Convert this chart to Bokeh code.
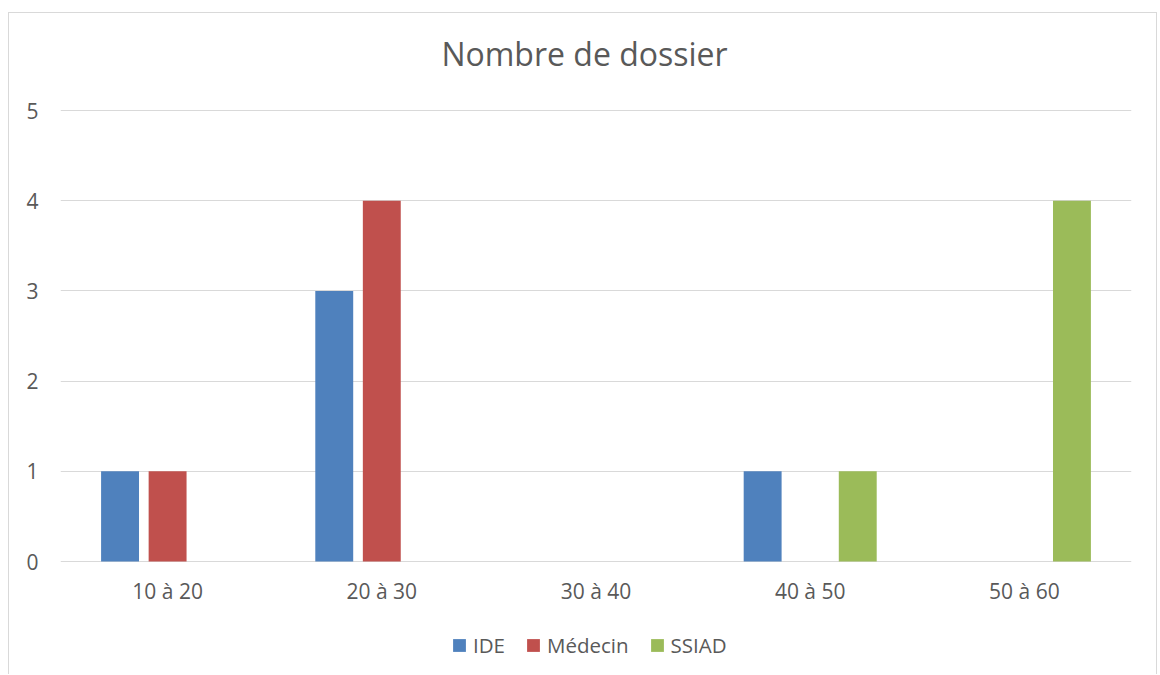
from bokeh.plotting import figure
from bokeh.models import (FactorRange, Range1d, FixedTicker, Legend, LegendItem,
                          ColumnDataSource, Label)
from bokeh.transform import dodge
from bokeh.embed import file_html
from bokeh.resources import INLINE

cats = ["10 à 20", "20 à 30", "30 à 40", "40 à 50", "50 à 60"]
ide = [1, 3, 0, 1, 0]
medecin = [1, 4, 0, 0, 0]
ssiad = [0, 0, 0, 1, 4]
y_ticks = [0, 1, 2, 3, 4, 5]
title_text = "Nombre de dossier"

TXT = "#595959"
FONT = "Open Sans"

src = ColumnDataSource(dict(cat=cats, ide=ide, medecin=medecin, ssiad=ssiad))

# frame covers the full canvas height: zero line at 548 px, value 5 at 97 px, canvas 662 px
PX_PER_UNIT = (548 - 97) / 5
Y_TOP = 548 / PX_PER_UNIT
Y_BOTTOM = -(662 - 548) / PX_PER_UNIT

p = figure(width=1149, height=662, x_range=FactorRange(factors=cats, range_padding=0),
           y_range=Range1d(Y_BOTTOM, Y_TOP), output_backend="svg", toolbar_location=None,
           min_border_left=51, min_border_right=27, min_border_top=0, min_border_bottom=0)
p.margin = (12, 0, 0, 8)
p.styles = {"border-left": "1px solid #D9D9D9", "border-top": "1px solid #D9D9D9",
            "border-right": "1px solid #D9D9D9"}
p.outline_line_color = None
p.background_fill_color = "white"
p.border_fill_alpha = 0

bw = 0.177
off = 0.222
r1 = p.vbar(x=dodge("cat", -off, range=p.x_range), top="ide", bottom=0, width=bw, source=src,
            fill_color="#4F81BD", line_color=None)
r2 = p.vbar(x=dodge("cat", 0, range=p.x_range), top="medecin", bottom=0, width=bw, source=src,
            fill_color="#C0504D", line_color=None)
r3 = p.vbar(x=dodge("cat", off, range=p.x_range), top="ssiad", bottom=0, width=bw, source=src,
            fill_color="#9BBB59", line_color=None)

p.xgrid.grid_line_color = None
p.ygrid.grid_line_color = "#D9D9D9"
p.ygrid.grid_line_width = 1
p.yaxis.ticker = FixedTicker(ticks=y_ticks)
p.xaxis.fixed_location = 0

for ax in (p.xaxis[0], p.yaxis[0]):
    ax.axis_line_color = None
    ax.major_tick_line_color = None
    ax.minor_tick_line_color = None
    ax.major_tick_out = 0
    ax.major_tick_in = 0
    ax.major_label_text_color = TXT
    ax.major_label_text_font = FONT
    ax.major_label_text_font_size = "21px"
p.xaxis.major_label_standoff = 15
p.yaxis.major_label_standoff = 22

p.add_layout(Label(x=2.5, y=5.635, x_offset=-11.5, text=title_text, text_align="center",
                   text_baseline="alphabetic", text_font=FONT, text_font_size="32px",
                   text_color=TXT))

legend = Legend(items=[LegendItem(label="IDE", renderers=[r1]),
                       LegendItem(label="Médecin", renderers=[r2]),
                       LegendItem(label="SSIAD", renderers=[r3])],
                orientation="horizontal", location=(391, 16),
                glyph_width=16, glyph_height=16, label_standoff=6, spacing=20,
                padding=0, margin=0, border_line_color=None, background_fill_alpha=0,
                label_text_font_size="20.5px", label_text_color=TXT, label_text_font=FONT)
p.add_layout(legend, "center")

open("out.html", "w").write(file_html(p, INLINE))
